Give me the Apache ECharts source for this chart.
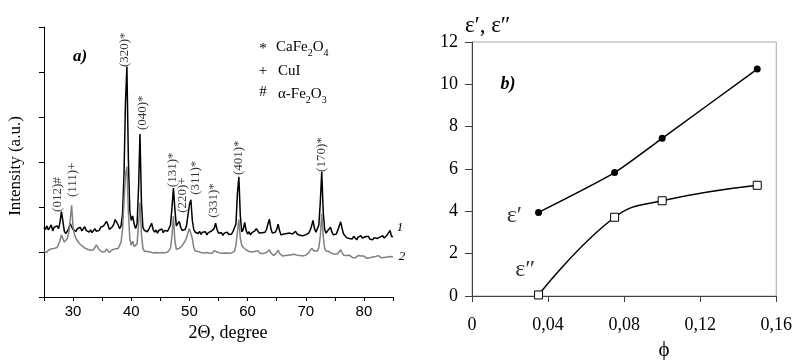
<!DOCTYPE html>
<html>
<head>
<meta charset="utf-8">
<script src="https://cdn.jsdelivr.net/npm/echarts@6/dist/echarts.min.js"></script>
<style>html,body{margin:0;padding:0;background:#fff}#c{width:795px;height:360px}</style>
</head>
<body>
<div id="c"></div>
<script>
// ---- Panel a) XRD patterns ----
const twoTheta = [
25,25.25,25.5,25.75,26,26.25,26.5,26.75,27,27.25,27.5,27.75,28,28.25,28.5,28.75,29,29.25,29.5,29.75,
30,30.25,30.5,30.75,31,31.25,31.5,31.75,32,32.25,32.5,32.75,33,33.25,33.5,33.75,34,34.25,34.5,34.75,
35,35.25,35.5,35.75,36,36.25,36.5,36.75,37,37.25,37.5,37.75,38,38.25,38.5,38.75,39,39.25,39.5,39.75,
40,40.25,40.5,40.75,41,41.25,41.5,41.75,42,42.25,42.5,42.75,43,43.25,43.5,43.75,44,44.25,44.5,44.75,
45,45.25,45.5,45.75,46,46.25,46.5,46.75,47,47.25,47.5,47.75,48,48.25,48.5,48.75,49,49.25,49.5,49.75,
50,50.25,50.5,50.75,51,51.25,51.5,51.75,52,52.25,52.5,52.75,53,53.25,53.5,53.75,54,54.25,54.5,54.75,
55,55.25,55.5,55.75,56,56.25,56.5,56.75,57,57.25,57.5,57.75,58,58.25,58.5,58.75,59,59.25,59.5,59.75,
60,60.25,60.5,60.75,61,61.25,61.5,61.75,62,62.25,62.5,62.75,63,63.25,63.5,63.75,64,64.25,64.5,64.75,
65,65.25,65.5,65.75,66,66.25,66.5,66.75,67,67.25,67.5,67.75,68,68.25,68.5,68.75,69,69.25,69.5,69.75,
70,70.25,70.5,70.75,71,71.25,71.5,71.75,72,72.25,72.5,72.75,73,73.25,73.5,73.75,74,74.25,74.5,74.75,
75,75.25,75.5,75.75,76,76.25,76.5,76.75,77,77.25,77.5,77.75,78,78.25,78.5,78.75,79,79.25,79.5,79.75,
80,80.25,80.5,80.75,81,81.25,81.5,81.75,82,82.25,82.5,82.75,83,83.25,83.5,83.75,84,84.25,84.5,84.75,
85];

const intensity1 = [
1.55,1.50,1.58,1.49,1.53,1.60,1.47,1.55,1.51,1.58,1.52,1.66,1.90,1.68,1.46,1.41,1.45,1.52,1.63,1.56,
1.50,1.54,1.46,1.52,1.49,1.55,1.47,1.51,1.56,1.48,1.50,1.44,1.49,1.43,1.47,1.52,1.46,1.50,1.48,1.55,
1.52,1.58,1.54,1.68,1.60,1.50,1.47,1.56,1.62,1.72,1.74,1.60,1.52,1.58,1.85,2.70,4.30,5.12,3.10,1.90,
1.70,1.80,1.62,1.52,1.62,2.40,3.62,2.10,1.55,1.48,1.52,1.45,1.50,1.47,1.64,1.50,1.44,1.49,1.42,1.48,
1.45,1.51,1.43,1.48,1.52,1.46,1.50,1.60,1.98,2.42,1.95,1.58,1.60,1.68,1.55,1.48,1.46,1.50,1.58,1.82,
2.05,2.16,1.70,1.50,1.44,1.48,1.41,1.46,1.39,1.44,1.40,1.45,1.38,1.43,1.40,1.46,1.44,1.52,1.64,1.50,
1.42,1.38,1.43,1.37,1.42,1.38,1.44,1.39,1.43,1.40,1.46,1.48,1.62,2.30,2.67,1.80,1.45,1.50,1.66,1.48,
1.40,1.45,1.38,1.43,1.40,1.47,1.52,1.49,1.42,1.38,1.43,1.40,1.44,1.50,1.62,1.73,1.52,1.42,1.38,1.44,
1.50,1.62,1.47,1.38,1.35,1.40,1.36,1.41,1.37,1.42,1.38,1.40,1.43,1.46,1.40,1.44,1.37,1.41,1.36,1.40,
1.38,1.42,1.42,1.48,1.58,1.70,1.52,1.44,1.48,1.60,2.10,2.78,1.90,1.50,1.42,1.47,1.50,1.55,1.44,1.38,
1.42,1.40,1.48,1.58,1.67,1.52,1.40,1.36,1.32,1.36,1.30,1.34,1.29,1.35,1.31,1.27,1.33,1.30,1.36,1.31,
1.28,1.34,1.30,1.35,1.29,1.33,1.27,1.32,1.35,1.30,1.28,1.33,1.30,1.36,1.31,1.34,1.38,1.40,1.48,1.34,
1.35];

const intensity2 = [
1.02,1.06,0.99,1.04,1.01,1.07,1.03,1.08,1.05,1.10,1.14,1.25,1.38,1.30,1.22,1.26,1.30,1.42,1.70,2.04,
1.55,1.38,1.30,1.25,1.20,1.18,1.14,1.12,1.09,1.11,1.06,1.08,1.04,1.07,1.05,1.10,1.16,1.12,1.05,1.03,
1.00,1.04,1.01,1.07,1.03,0.99,1.02,1.05,1.03,1.07,1.10,1.08,1.12,1.22,1.50,2.10,2.70,2.90,1.90,1.30,
1.15,1.24,1.12,1.08,1.18,1.60,2.10,1.40,1.08,1.02,0.99,1.01,0.97,1.00,1.03,0.98,0.96,0.99,0.95,0.98,
0.96,0.99,0.95,0.98,0.97,1.00,1.02,1.08,1.35,1.80,1.25,1.06,1.04,1.08,1.10,1.14,1.18,1.24,1.32,1.42,
1.52,1.56,1.30,1.10,1.02,0.99,1.01,0.97,0.99,0.95,0.98,0.96,0.99,0.95,0.97,1.00,0.98,1.03,1.07,1.00,
0.96,0.98,0.94,0.97,0.95,0.98,0.94,0.97,0.95,0.98,0.96,1.02,1.15,1.45,1.72,1.30,1.15,1.10,1.12,1.05,
1.04,1.01,0.98,1.00,0.97,1.01,1.05,1.03,1.00,0.96,0.94,0.97,0.95,0.99,1.02,1.05,0.98,0.94,0.92,0.96,
0.99,1.04,0.97,0.93,0.91,0.94,0.92,0.95,0.93,0.96,0.94,0.92,0.95,0.97,0.93,0.95,0.92,0.94,0.91,0.94,
0.93,0.96,0.98,1.03,1.08,1.10,1.02,0.98,1.02,1.10,1.35,1.85,1.35,1.08,1.02,0.99,1.01,1.03,0.97,0.94,
0.95,0.93,0.96,1.00,1.05,0.98,0.93,0.90,0.92,0.89,0.93,0.90,0.88,0.91,0.87,0.90,0.92,0.88,0.91,0.89,
0.91,0.88,0.86,0.90,0.87,0.91,0.89,0.86,0.90,0.88,0.92,0.89,0.87,0.90,0.88,0.91,0.89,0.92,0.90,0.87,
0.89];

// peak annotations: [text, 2theta, intensity at label start]
const peakLabels = [
  ['(012)#', 27.4, 1.89],
  ['(111)+', 29.85, 2.22],
  ['(320)*', 38.84, 5.11],
  ['(040)*', 41.95, 3.71],
  ['(131)*', 47.15, 2.44],
  ['(220)+', 48.88, 1.87],
  ['(311)*', 51.12, 2.27],
  ['(331)*', 54.07, 1.76],
  ['(401)*', 58.39, 2.71],
  ['(170)*', 72.75, 2.78]
];

// ---- Panel b) permittivity vs phi ----
const phi = [0.035, 0.075, 0.1, 0.15];
const epsReal = [3.95, 5.83, 7.45, 10.72];
const epsImag = [0.05, 3.72, 4.5, 5.23];
const phiTicks = [0, 0.04, 0.08, 0.12, 0.16];
const epsTicks = [0, 2, 4, 6, 8, 10, 12];

const serif = 'Liberation Serif';
const pair = (xs, ys) => xs.map((x, i) => [x, ys[i]]);

const chart = echarts.init(document.getElementById('c'), null, {renderer: 'canvas'});
chart.setOption({
  animation: false,
  backgroundColor: '#fff',
  grid: [
    {left: 44, top: 27, width: 349, height: 270},
    {left: 472, top: 42, width: 308, height: 254, show: true, borderColor: '#a8a8a8', borderWidth: 1, backgroundColor: 'transparent'}
  ],
  xAxis: [
    {gridIndex: 0, type: 'value', min: 25, max: 85, interval: 5,
     axisLine: {lineStyle: {color: '#000', width: 1}},
     axisTick: {length: 4, lineStyle: {color: '#000'}},
     axisLabel: {color: '#000', fontFamily: 'Liberation Sans', fontSize: 15, margin: 7,
       formatter: v => (v % 10 === 0 && v > 25 && v < 85) ? String(v) : ''},
     splitLine: {show: false}},
    {gridIndex: 1, type: 'value', min: phiTicks[0], max: phiTicks[phiTicks.length - 1], interval: 0.04,
     axisLine: {onZero: false, lineStyle: {color: '#404040', width: 1}},
     axisTick: {length: 6, lineStyle: {color: '#404040'}},
     axisLabel: {color: '#000', fontFamily: serif, fontSize: 18, margin: 20,
       formatter: v => v === 0 ? '0' : v.toFixed(2).replace('.', ',')},
     splitLine: {show: false}},
    {gridIndex: 1, type: 'value', min: phiTicks[0], max: phiTicks[phiTicks.length - 1], interval: 0.04,
     axisLine: {show: false}, axisLabel: {show: false},
     axisTick: {inside: true, length: 4, lineStyle: {color: '#404040'}},
     splitLine: {show: false}}
  ],
  yAxis: [
    {gridIndex: 0, type: 'value', min: 0, max: 6, interval: 1,
     axisLine: {show: true, lineStyle: {color: '#000', width: 1}},
     axisTick: {show: true, length: 5, lineStyle: {color: '#000'}},
     axisLabel: {show: false}, splitLine: {show: false}},
    {gridIndex: 1, type: 'value', min: epsTicks[0], max: epsTicks[epsTicks.length - 1], interval: 2,
     axisLine: {show: true, onZero: false, lineStyle: {color: '#404040', width: 1}},
     axisTick: {show: true, length: 7, lineStyle: {color: '#404040'}},
     axisLabel: {color: '#000', fontFamily: serif, fontSize: 18, margin: 14},
     splitLine: {show: false}}
  ],
  series: [
    {type: 'line', xAxisIndex: 0, yAxisIndex: 0, data: pair(twoTheta, intensity1),
     showSymbol: false, lineStyle: {color: '#000', width: 1.5}, z: 2},
    {type: 'line', xAxisIndex: 0, yAxisIndex: 0, data: pair(twoTheta, intensity2),
     showSymbol: false, lineStyle: {color: '#808080', width: 1.5}, z: 3},
    {type: 'scatter', xAxisIndex: 0, yAxisIndex: 0, symbolSize: 0, silent: true,
     data: peakLabels.map(p => ({value: [p[1], p[2]], name: p[0]})),
     label: {show: true, formatter: p => p.name, rotate: 90, position: [0, 0],
       align: 'left', verticalAlign: 'middle', fontFamily: serif, fontSize: 13, color: '#000'}, z: 4},
    {type: 'line', xAxisIndex: 1, yAxisIndex: 1, data: pair(phi, epsReal), smooth: 0.2,
     symbol: 'circle', symbolSize: 7, itemStyle: {color: '#000'},
     lineStyle: {color: '#000', width: 1.5}, z: 5},
    {type: 'line', xAxisIndex: 1, yAxisIndex: 1, data: pair(phi, epsImag), smooth: 0.45,
     symbol: 'rect', symbolSize: 8, itemStyle: {color: '#fff', borderColor: '#000', borderWidth: 1},
     lineStyle: {color: '#000', width: 1.5}, z: 5},
    {type: 'scatter', xAxisIndex: 1, yAxisIndex: 1, symbolSize: 0, silent: true,
     data: [{value: [0.0223, 3.78], name: 'ε′'}, {value: [0.028, 1.23], name: 'ε″'}],
     label: {show: true, formatter: p => p.name, position: [0, 0], align: 'center',
       verticalAlign: 'middle', fontFamily: serif, fontSize: 24, color: '#000'}, z: 6}
  ],
  graphic: [
    {type: 'text', x: 16, y: 166, rotation: Math.PI / 2,
     style: {text: 'Intensity (a.u.)', fontFamily: serif, fontSize: 17, fill: '#000', align: 'center', verticalAlign: 'middle'}},
    {type: 'text', x: 228, y: 333,
     style: {text: '2Θ, degree', fontFamily: serif, fontSize: 18, fill: '#000', align: 'center', verticalAlign: 'middle'}},
    {type: 'text', x: 80, y: 57,
     style: {text: 'a)', fontFamily: serif, fontSize: 17, fontWeight: 'bold', fontStyle: 'italic', fill: '#000', align: 'center', verticalAlign: 'middle'}},
    {type: 'text', x: 508, y: 84,
     style: {text: 'b)', fontFamily: serif, fontSize: 18, fontWeight: 'bold', fontStyle: 'italic', fill: '#000', align: 'center', verticalAlign: 'middle'}},
    {type: 'text', x: 263, y: 49,
     style: {text: '*', fontFamily: serif, fontSize: 15, fill: '#000', align: 'center', verticalAlign: 'middle'}},
    {type: 'text', x: 263, y: 71,
     style: {text: '+', fontFamily: serif, fontSize: 15, fill: '#000', align: 'center', verticalAlign: 'middle'}},
    {type: 'text', x: 263, y: 92,
     style: {text: '#', fontFamily: serif, fontSize: 15, fill: '#000', align: 'center', verticalAlign: 'middle'}},
    {type: 'text', x: 276, y: 47,
     style: {text: '{n|CaFe}{s|2}{n|O}{s|4}', fill: '#000', verticalAlign: 'middle',
       rich: {n: {fontFamily: serif, fontSize: 15, lineHeight: 22, verticalAlign: 'middle'},
              s: {fontFamily: serif, fontSize: 10, lineHeight: 22, verticalAlign: 'bottom'}}}},
    {type: 'text', x: 278, y: 71,
     style: {text: 'CuI', fontFamily: serif, fontSize: 15, fill: '#000', verticalAlign: 'middle'}},
    {type: 'text', x: 278, y: 94,
     style: {text: '{n|α-Fe}{s|2}{n|O}{s|3}', fill: '#000', verticalAlign: 'middle',
       rich: {n: {fontFamily: serif, fontSize: 15, lineHeight: 22, verticalAlign: 'middle'},
              s: {fontFamily: serif, fontSize: 10, lineHeight: 22, verticalAlign: 'bottom'}}}},
    {type: 'text', x: 400, y: 228,
     style: {text: '1', fontFamily: serif, fontSize: 13, fontStyle: 'italic', fill: '#000', align: 'center', verticalAlign: 'middle'}},
    {type: 'text', x: 402, y: 257,
     style: {text: '2', fontFamily: serif, fontSize: 13, fontStyle: 'italic', fill: '#000', align: 'center', verticalAlign: 'middle'}},
    {type: 'text', x: 465, y: 26,
     style: {text: 'ε′, ε″', fontFamily: serif, fontSize: 23, fill: '#000', align: 'left', verticalAlign: 'middle'}},
    {type: 'text', x: 664, y: 350,
     style: {text: 'ϕ', fontFamily: serif, fontSize: 21, fill: '#000', align: 'center', verticalAlign: 'middle'}}
  ]
});
</script>
</body>
</html>
